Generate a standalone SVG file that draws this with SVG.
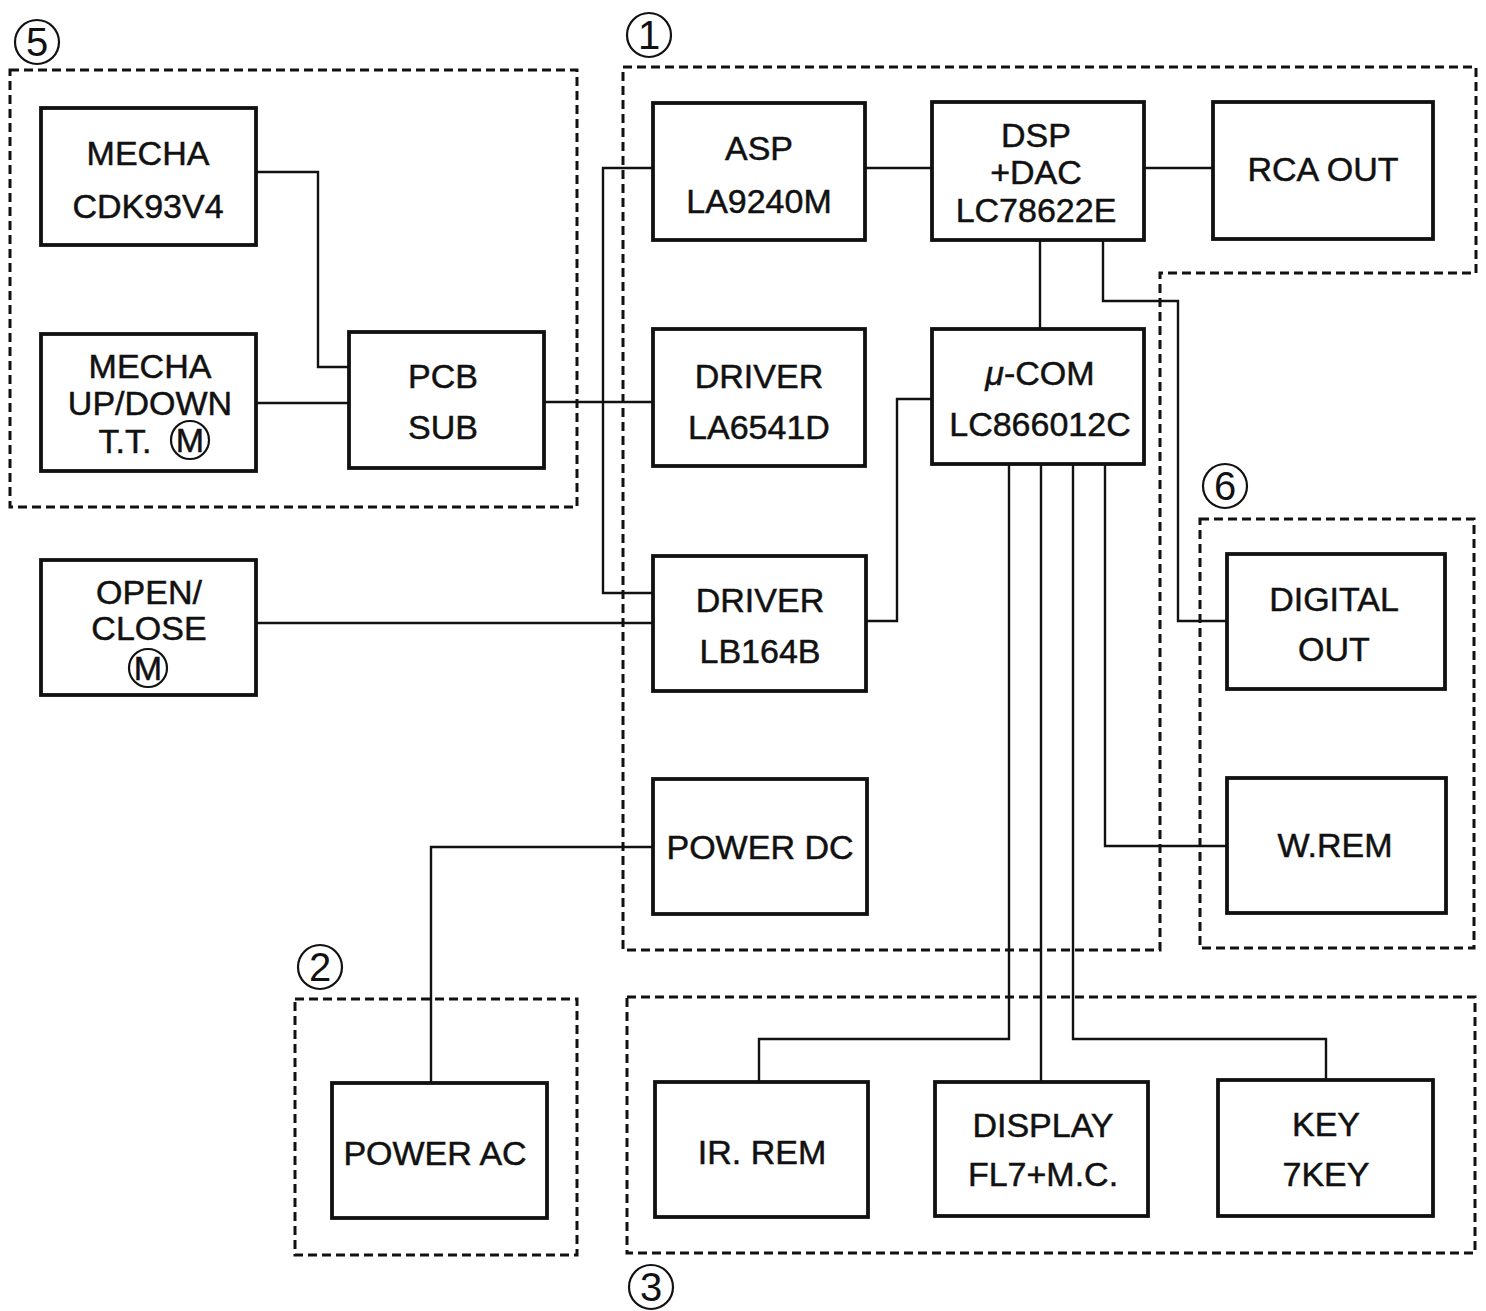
<svg xmlns="http://www.w3.org/2000/svg" width="1486" height="1311" viewBox="0 0 1486 1311">
<style>
.box{fill:#fff;stroke:#111;stroke-width:3.8}
.grp{fill:none;stroke:#111;stroke-width:3;stroke-dasharray:9 5}
.wire{fill:none;stroke:#111;stroke-width:2.4}
.t{font-family:"Liberation Sans",Arial,sans-serif;font-size:34px;fill:#111;stroke:#111;stroke-width:0.5;text-anchor:middle}
.num{font-family:"Liberation Sans",Arial,sans-serif;font-size:40px;fill:#111;text-anchor:middle}
.ring{fill:none;stroke:#111;stroke-width:2.2}
</style>
<rect width="1486" height="1311" fill="#fff"/>
<g id="groups">
<path class="grp" d="M10 70 H577 V507 H10 Z"/>
<path class="grp" d="M623 67 H1476 V273 H1160 V950 H623 Z"/>
<path class="grp" d="M1200 519 H1474 V948 H1200 Z"/>
<path class="grp" d="M295 999 H577 V1255 H295 Z"/>
<path class="grp" d="M627 997 H1475 V1253 H627 Z"/>
</g>
<g id="labels">
<g id="label-1"><circle class="ring" cx="649" cy="35" r="22"/><text class="num" x="649" y="49">1</text></g>
<g id="label-2"><circle class="ring" cx="320" cy="967" r="22"/><text class="num" x="320" y="981">2</text></g>
<g id="label-3"><circle class="ring" cx="651" cy="1287" r="22"/><text class="num" x="651" y="1301">3</text></g>
<g id="label-5"><circle class="ring" cx="37" cy="42" r="22"/><text class="num" x="37" y="56">5</text></g>
<g id="label-6"><circle class="ring" cx="1225" cy="486" r="22"/><text class="num" x="1225" y="500">6</text></g>
</g>
<g id="connectors">
<polyline class="wire" points="256,172 318,172 318,367 349,367"/>
<line class="wire" x1="256" y1="403" x2="349" y2="403"/>
<line class="wire" x1="544" y1="402" x2="653" y2="402"/>
<polyline class="wire" points="653,168 603,168 603,593 653,593"/>
<line class="wire" x1="865" y1="168" x2="932" y2="168"/>
<line class="wire" x1="1144" y1="168" x2="1213" y2="168"/>
<line class="wire" x1="1040" y1="240" x2="1040" y2="329"/>
<polyline class="wire" points="1103,240 1103,301 1178,301 1178,621 1227,621"/>
<polyline class="wire" points="932,399 897,399 897,621 866,621"/>
<line class="wire" x1="256" y1="623" x2="653" y2="623"/>
<polyline class="wire" points="653,847 431,847 431,1083"/>
<polyline class="wire" points="1009,464 1009,1039 759,1039 759,1082"/>
<line class="wire" x1="1041" y1="464" x2="1041" y2="1082"/>
<polyline class="wire" points="1073,464 1073,1039 1326,1039 1326,1080"/>
<polyline class="wire" points="1105,464 1105,846 1227,846"/>
</g>
<g id="mecha-cdk"><rect class="box" x="41" y="108" width="215" height="137"/><text class="t" x="148" y="165">MECHA</text><text class="t" x="148" y="218">CDK93V4</text></g>
<g id="mecha-updown"><rect class="box" x="41" y="334" width="215" height="137"/><text class="t" x="150" y="378">MECHA</text><text class="t" x="150" y="415">UP/DOWN</text><text class="t" x="125" y="453">T.T.</text><circle class="ring" cx="190" cy="440" r="19"/><text class="t" x="190" y="452" font-size="31">M</text></g>
<g id="pcb-sub"><rect class="box" x="349" y="332" width="195" height="136"/><text class="t" x="443" y="388">PCB</text><text class="t" x="443" y="439">SUB</text></g>
<g id="open-close"><rect class="box" x="41" y="560" width="215" height="135"/><text class="t" x="149" y="604">OPEN/</text><text class="t" x="149" y="640">CLOSE</text><circle class="ring" cx="148" cy="668" r="19"/><text class="t" x="148" y="680" font-size="31">M</text></g>
<g id="asp"><rect class="box" x="653" y="103" width="212" height="137"/><text class="t" x="759" y="160">ASP</text><text class="t" x="759" y="213">LA9240M</text></g>
<g id="dsp"><rect class="box" x="932" y="102" width="212" height="138"/><text class="t" x="1036" y="147">DSP</text><text class="t" x="1036" y="184">+DAC</text><text class="t" x="1036" y="222">LC78622E</text></g>
<g id="rca-out"><rect class="box" x="1213" y="102" width="220" height="137"/><text class="t" x="1323" y="181">RCA OUT</text></g>
<g id="driver-la6541d"><rect class="box" x="653" y="329" width="212" height="137"/><text class="t" x="759" y="388">DRIVER</text><text class="t" x="759" y="439">LA6541D</text></g>
<g id="ucom"><rect class="box" x="932" y="329" width="212" height="135"/><text class="t" x="1040" y="385"><tspan font-style="italic">μ</tspan>-COM</text><text class="t" x="1040" y="436">LC866012C</text></g>
<g id="driver-lb164b"><rect class="box" x="653" y="556" width="213" height="135"/><text class="t" x="760" y="612">DRIVER</text><text class="t" x="760" y="663">LB164B</text></g>
<g id="power-dc"><rect class="box" x="653" y="779" width="214" height="135"/><text class="t" x="760" y="859">POWER DC</text></g>
<g id="digital-out"><rect class="box" x="1227" y="554" width="218" height="135"/><text class="t" x="1334" y="611">DIGITAL</text><text class="t" x="1334" y="661">OUT</text></g>
<g id="w-rem"><rect class="box" x="1227" y="778" width="219" height="135"/><text class="t" x="1335" y="857">W.REM</text></g>
<g id="power-ac"><rect class="box" x="332" y="1083" width="215" height="135"/><text class="t" x="435" y="1165">POWER AC</text></g>
<g id="ir-rem"><rect class="box" x="655" y="1082" width="213" height="135"/><text class="t" x="762" y="1164">IR. REM</text></g>
<g id="display"><rect class="box" x="935" y="1082" width="213" height="134"/><text class="t" x="1043" y="1137">DISPLAY</text><text class="t" x="1043" y="1186">FL7+M.C.</text></g>
<g id="key"><rect class="box" x="1218" y="1080" width="215" height="136"/><text class="t" x="1326" y="1136">KEY</text><text class="t" x="1326" y="1186">7KEY</text></g>
</svg>
